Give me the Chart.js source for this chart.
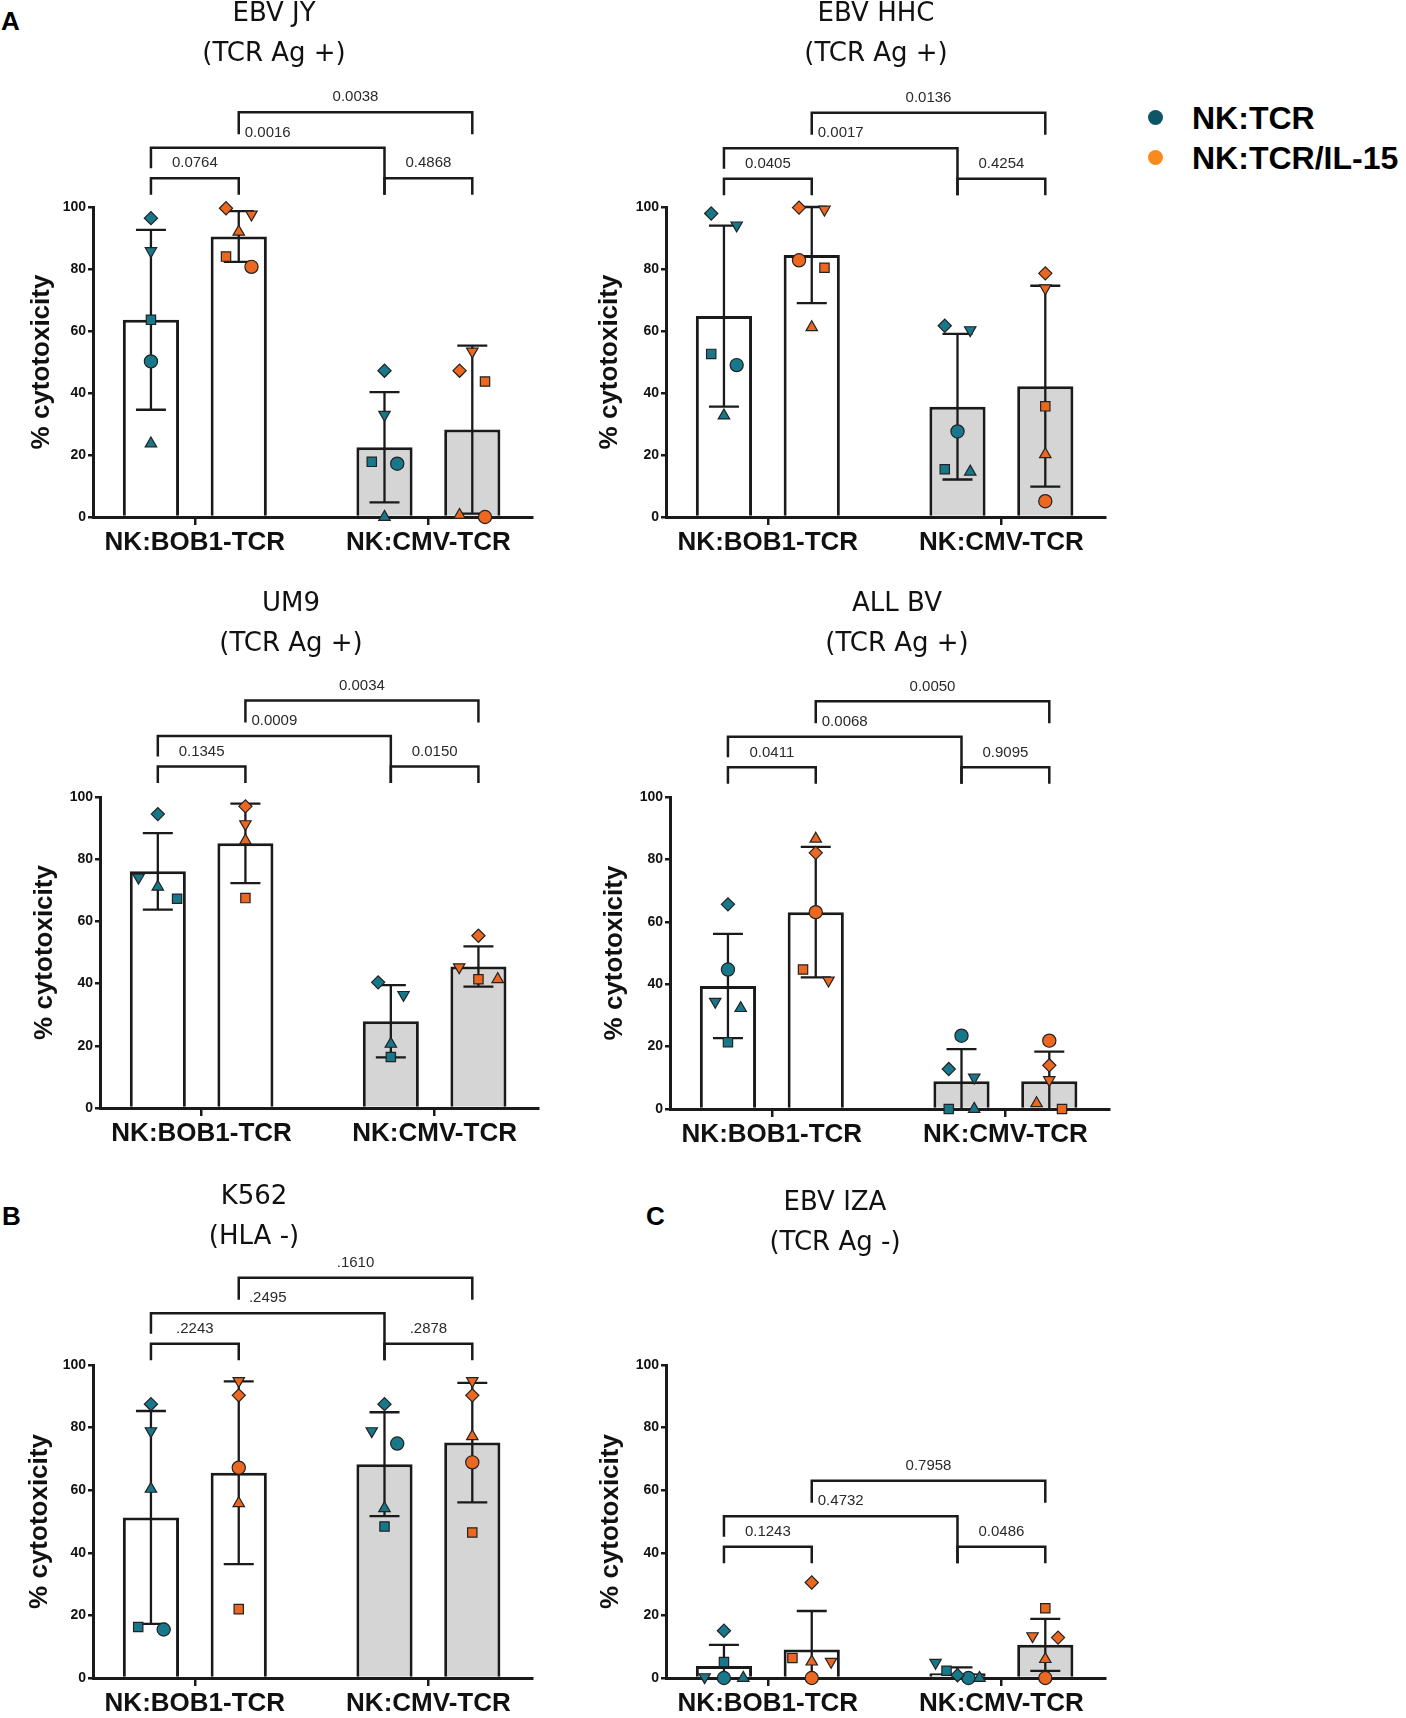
<!DOCTYPE html>
<html>
<head>
<meta charset="utf-8">
<script src="https://cdn.jsdelivr.net/npm/chart.js@4.4.0/dist/chart.umd.min.js"></script>
<style>
    html, body { margin: 0; padding: 0; background: #fff; }
    body { position: relative; width: 1406px; height: 1718px; overflow: hidden; font-family: 'Liberation Sans', Arial, sans-serif; }
    canvas { position: absolute; }
    .letter { position: absolute; font-weight: bold; font-size: 26px; line-height: 1; color: #000; }
    .legend { position: absolute; left: 1148px; top: 98px; font-weight: bold; font-size: 32px; color: #000; }
    .legend div { position: relative; height: 40px; line-height: 40px; padding-left: 44px; white-space: nowrap; }
    .legend span { position: absolute; left: 0; top: 12px; width: 15px; height: 15px; border-radius: 50%; }
</style>
</head>
<body>
<div class="letter" style="left:1px;top:8px">A</div>
<div class="letter" style="left:2px;top:1203px">B</div>
<div class="letter" style="left:646px;top:1203px">C</div>
<div class="legend">
    <div><span style="background:#0e5566"></span>NK:TCR</div>
    <div><span style="background:#f98b1e"></span>NK:TCR/IL-15</div>
</div>
<script>
// Shared labels
const groupLabels = ['NK:BOB1-TCR', 'NK:CMV-TCR'];
const seriesLabels = ['NK:TCR', 'NK:TCR/IL-15'];
const yTitle = '% cytotoxicity';

// Bars are ordered: BOB1 NK:TCR, BOB1 NK:TCR/IL-15, CMV NK:TCR, CMV NK:TCR/IL-15
// Donor values per bar are ordered: circle, square, triangle, inverted triangle, diamond
// P values are ordered: bar1-bar2, bar3-bar4, bar1-bar3, bar2-bar4

// EBV JY
const ebvJyTitle = ['EBV JY', '(TCR Ag +)'];
const ebvJyMean = [63.6, 90.5, 22.5, 28.2];
const ebvJySd = [29.0, 8.2, 17.8, 27.1];
const ebvJyDonors = [
    [50.2, 63.6, 23.7, 85.8, 96.4],
    [80.7, 84.0, 92.0, 97.6, 99.6],
    [17.2, 17.8, 0.0, 33.0, 47.2],
    [0.0, 43.7, 0.6, 53.4, 47.2]
];
const ebvJyP = ['0.0764', '0.4868', '0.0016', '0.0038'];

// EBV HHC
const ebvHhcTitle = ['EBV HHC', '(TCR Ag +)'];
const ebvHhcMean = [64.8, 84.5, 35.6, 42.2];
const ebvHhcSd = [29.2, 15.5, 23.5, 32.4];
const ebvHhcDonors = [
    [49.0, 52.6, 32.7, 94.1, 97.9],
    [82.8, 80.4, 61.2, 99.2, 99.8],
    [27.6, 15.4, 14.6, 60.3, 61.7],
    [5.1, 35.7, 20.2, 73.8, 78.6]
];
const ebvHhcP = ['0.0405', '0.4254', '0.0017', '0.0136'];

// UM9
const um9Title = ['UM9', '(TCR Ag +)'];
const um9Mean = [76.1, 85.1, 27.9, 45.5];
const um9Sd = [12.3, 12.8, 11.6, 6.5];
const um9Donors = [
    [null, 67.3, 71.1, 74.1, 94.5],
    [null, 67.5, 86.0, 91.3, 97.0],
    [null, 16.4, 20.6, 36.4, 40.4],
    [null, 41.4, 41.4, 45.3, 55.4]
];
const um9P = ['0.1345', '0.0150', '0.0009', '0.0034'];

// ALL BV
const allBvTitle = ['ALL BV', '(TCR Ag +)'];
const allBvMean = [39.4, 63.1, 8.9, 8.9];
const allBvSd = [16.7, 20.9, 10.3, 9.5];
const allBvDonors = [
    [44.7, 21.4, 32.3, 34.4, 65.6],
    [63.1, 44.7, 86.6, 41.2, 82.1],
    [23.5, 0.0, 0.0, 10.1, 12.8],
    [21.9, 0.0, 1.8, 9.3, 14.0]
];
const allBvP = ['0.0411', '0.9095', '0.0068', '0.0050'];

// K562
const k562Title = ['K562', '(HLA -)'];
const k562Mean = [51.3, 65.6, 68.3, 75.2];
const k562Sd = [34.0, 29.2, 16.6, 19.1];
const k562Donors = [
    [15.5, 16.3, 60.4, 78.9, 87.5],
    [67.2, 22.0, 55.8, 94.9, 90.3],
    [74.9, 48.4, 54.2, 78.9, 87.5],
    [68.9, 46.5, 77.2, 94.9, 90.3]
];
const k562P = ['.2243', '.2878', '.2495', '.1610'];

// EBV IZA
const ebvIzaTitle = ['EBV IZA', '(TCR Ag -)'];
const ebvIzaMean = [3.8, 9.1, 1.5, 10.6];
const ebvIzaSd = [6.8, 12.3, 1.9, 8.3];
const ebvIzaDonors = [
    [0.0, 5.1, 0.0, 0.3, 15.1],
    [0.0, 6.4, 5.2, 5.2, 30.5],
    [0.0, 2.3, 0.0, 4.9, 0.9],
    [0.0, 22.3, 6.0, 13.4, 12.9]
];
const ebvIzaP = ['0.1243', '0.0486', '0.4732', '0.7958'];

// Layout: bar slots on the x scale, and where each panel sits on the page
const barX = [0, 1, 2.66, 3.66];
const groupX = [0.5, 3.16];
const xMin = -0.66, xMax = 4.34;

const panels = [
    { title: ebvJyTitle, mean: ebvJyMean, sd: ebvJySd, donors: ebvJyDonors, p: ebvJyP,
      box: { left: 93, right: 532, top: 207, bottom: 517, titleX: 274, titleY: 14, yTitleX: 42, bracketAt: 109.3 } },
    { title: ebvHhcTitle, mean: ebvHhcMean, sd: ebvHhcSd, donors: ebvHhcDonors, p: ebvHhcP,
      box: { left: 666, right: 1105, top: 207, bottom: 517, titleX: 876, titleY: 14, yTitleX: 610, bracketAt: 109.1 } },
    { title: um9Title, mean: um9Mean, sd: um9Sd, donors: um9Donors, p: um9P,
      box: { left: 100, right: 538, top: 797, bottom: 1108, titleX: 291, titleY: 604, yTitleX: 45, bracketAt: 109.8 } },
    { title: allBvTitle, mean: allBvMean, sd: allBvSd, donors: allBvDonors, p: allBvP,
      box: { left: 670, right: 1109, top: 797, bottom: 1109, titleX: 897, titleY: 604, yTitleX: 615, bracketAt: 109.5 } },
    { title: k562Title, mean: k562Mean, sd: k562Sd, donors: k562Donors, p: k562P,
      box: { left: 93, right: 532, top: 1365, bottom: 1678, titleX: 254, titleY: 1197, yTitleX: 40, bracketAt: 106.8 } },
    { title: ebvIzaTitle, mean: ebvIzaMean, sd: ebvIzaSd, donors: ebvIzaDonors, p: ebvIzaP,
      box: { left: 666, right: 1105, top: 1365, bottom: 1678, titleX: 835, titleY: 1203, yTitleX: 611, bracketAt: 41.9 } }
];

// Styles
const seriesColors = ['#18788b', '#ec6820'];
const barFills = ['#ffffff', '#ffffff', '#d5d5d5', '#d5d5d5'];
const donorStyles = ['circle', 'rect', 'triangle', 'triangle', 'rectRot'];
const donorRotation = [0, 0, 0, 180, 0];
const ink = '#1a1a1a';

// Spread overlapping markers side by side, like a scatter dot plot
function spread(values) {
    const order = values.map((v, j) => j).filter(j => values[j] !== null)
        .sort((a, b) => values[b] - values[a]);
    const off = [];
    let cluster = [];
    const flush = () => {
        const n = cluster.length;
        const step = n === 2 ? 0.29 : Math.min(0.22, 0.5 / Math.max(n - 1, 1));
        cluster.forEach((j, k) => { off[j] = (k - (n - 1) / 2) * step; });
        cluster = [];
    };
    order.forEach(j => {
        if (cluster.length && values[cluster[cluster.length - 1]] - values[j] > 4.2) flush();
        cluster.push(j);
    });
    flush();
    return off;
}

// Error bars, significance brackets and the panel title
function decorPlugin(panel, cx, ct) {
    const b = panel.box;
    return {
        id: 'decor',
        afterDatasetDraw(chart, args) {
            if (args.index !== 0) return;
            const { ctx, scales: { x, y } } = chart;
            ctx.save();
            ctx.strokeStyle = ink;
            ctx.lineWidth = 2.3;
            panel.mean.forEach((m, i) => {
                const px = x.getPixelForValue(barX[i]);
                const hi = y.getPixelForValue(m + panel.sd[i]);
                const low = m - panel.sd[i];
                const lo = y.getPixelForValue(Math.max(low, 0));
                ctx.beginPath();
                ctx.moveTo(px, lo);
                ctx.lineTo(px, hi);
                ctx.moveTo(px - 15, hi);
                ctx.lineTo(px + 15, hi);
                if (low > 0) {
                    ctx.moveTo(px - 15, lo);
                    ctx.lineTo(px + 15, lo);
                }
                ctx.stroke();
            });
            ctx.restore();
        },
        afterDraw(chart) {
            const { ctx, scales: { x, y } } = chart;
            ctx.save();

            // title
            ctx.fillStyle = '#111';
            ctx.font = '26px "DejaVu Sans"';
            ctx.textAlign = 'center';
            ctx.textBaseline = 'middle';
            panel.title.forEach((line, i) => {
                ctx.fillText(line, b.titleX - cx, b.titleY - ct + i * 40);
            });

            // brackets
            const base = y.getPixelForValue(b.bracketAt);
            const bx = barX.map(v => x.getPixelForValue(v));
            const brackets = [
                [0, 1, base, 16.5, 16.5],
                [2, 3, base, 16.5, 16.5],
                [0, 2, base - 30.5, 20.5, 47],
                [1, 3, base - 66, 22, 22]
            ];
            ctx.strokeStyle = ink;
            ctx.lineWidth = 2.5;
            ctx.font = '15px "Liberation Sans"';
            ctx.fillStyle = '#2a2a2a';
            brackets.forEach(([a, c, yy, legA, legC], i) => {
                ctx.beginPath();
                ctx.moveTo(bx[a], yy + legA);
                ctx.lineTo(bx[a], yy);
                ctx.lineTo(bx[c], yy);
                ctx.lineTo(bx[c], yy + legC);
                ctx.stroke();
                ctx.fillText(panel.p[i], (bx[a] + bx[c]) / 2, yy - 15);
            });
            ctx.restore();
        }
    };
}

function makeChart(panel) {
    const b = panel.box;
    const cx = b.left - 100;
    const ct = b.titleY - 28;
    const cw = b.right + 12 - cx;
    const ch = b.bottom + 46 - ct;

    const canvas = document.createElement('canvas');
    canvas.width = cw;
    canvas.height = ch;
    canvas.style.left = cx + 'px';
    canvas.style.top = ct + 'px';
    canvas.style.width = cw + 'px';
    canvas.style.height = ch + 'px';
    document.body.appendChild(canvas);

    const bars = {
        type: 'bar',
        label: 'mean',
        data: panel.mean.map((m, i) => ({ x: barX[i], y: m })),
        backgroundColor: barFills,
        borderColor: ink,
        borderWidth: 3,
        barPercentage: 0.64,
        categoryPercentage: 1,
        order: 2
    };

    const dots = panel.donors.map((vals, i) => {
        const off = spread(vals);
        const keep = vals.map((v, j) => j).filter(j => vals[j] !== null);
        return {
            type: 'scatter',
            label: seriesLabels[i % 2],
            data: keep.map(j => ({ x: barX[i] + off[j], y: vals[j] })),
            pointStyle: keep.map(j => donorStyles[j]),
            pointRotation: keep.map(j => donorRotation[j]),
            pointRadius: 6.6,
            pointBackgroundColor: seriesColors[i % 2],
            pointBorderColor: '#222',
            pointBorderWidth: 1.2,
            showLine: false,
            clip: false,
            order: 1
        };
    });

    new Chart(canvas, {
        type: 'bar',
        data: { datasets: [bars, ...dots] },
        options: {
            responsive: false,
            animation: false,
            layout: { padding: { top: b.top - ct, right: 12, left: 0, bottom: 0 } },
            plugins: {
                legend: { display: false },
                tooltip: { enabled: false },
                title: { display: false }
            },
            scales: {
                x: {
                    type: 'linear',
                    min: xMin,
                    max: xMax,
                    offset: false,
                    afterBuildTicks: s => { s.ticks = groupX.map(v => ({ value: v })); },
                    afterFit: s => { s.height = 46; },
                    ticks: {
                        autoSkip: false,
                        maxRotation: 0,
                        padding: 2,
                        color: '#111',
                        font: { family: 'Liberation Sans', size: 26, weight: 'bold' },
                        callback: (v, i) => groupLabels[i]
                    },
                    grid: { drawOnChartArea: false, offset: false, tickLength: 8, color: ink, lineWidth: 2.5 },
                    border: { display: true, color: ink, width: 3 }
                },
                y: {
                    min: 0,
                    max: 100,
                    afterFit: s => { s.width = 100; },
                    ticks: {
                        stepSize: 20,
                        padding: 2,
                        color: '#111',
                        font: { family: 'Liberation Sans', size: 14, weight: 'bold' }
                    },
                    grid: { drawOnChartArea: false, tickLength: 5, color: ink, lineWidth: 2.5 },
                    border: { display: true, color: ink, width: 3 },
                    title: {
                        display: true,
                        text: yTitle,
                        color: '#111',
                        font: { family: 'Liberation Sans', size: 26, weight: 'bold' },
                        padding: { top: b.yTitleX - cx - 15.6, bottom: 0 }
                    }
                }
            }
        },
        plugins: [decorPlugin(panel, cx, ct)]
    });
}

panels.forEach(makeChart);
</script>
</body>
</html>
